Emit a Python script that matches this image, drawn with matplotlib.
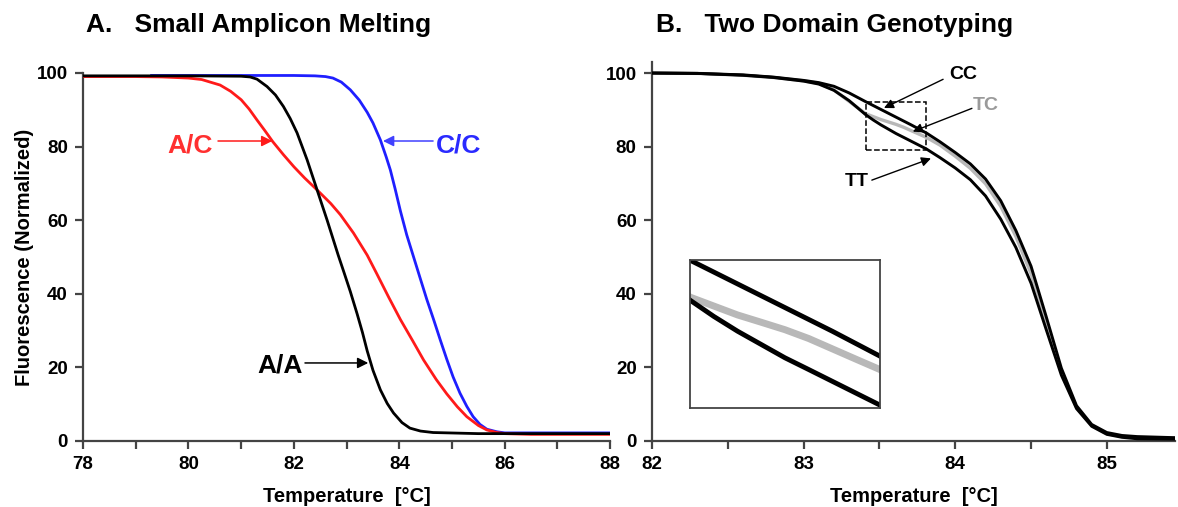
import numpy as np
import matplotlib.pyplot as plt
from matplotlib.patches import Rectangle

plt.rcParams['font.family'] = ['Liberation Sans', 'DejaVu Sans']
plt.rcParams['font.weight'] = 'bold'

# ---- panel A: small amplicon melting ----
ac_t = [78.0, 79.0, 79.5, 80.0, 80.25, 80.6, 80.8, 81.0, 81.15, 81.3, 81.45, 81.6, 81.8,
        82.0, 82.2, 82.44, 82.7, 82.88, 83.13, 83.39, 83.57, 83.8, 84.02, 84.25, 84.46,
        84.7, 84.9, 85.1, 85.28, 85.5, 85.66, 85.85, 86.0, 86.5, 88.0]
ac_f = [99.0, 99.0, 98.9, 98.6, 98.2, 96.7, 95.0, 92.7, 90.2, 87.2, 84.3, 81.3, 77.8,
        74.5, 71.5, 68.2, 64.5, 61.5, 56.5, 50.5, 45.5, 39.0, 33.0, 27.3, 22.0,
        16.7, 12.8, 9.3, 6.6, 4.2, 3.0, 2.3, 2.0, 1.8, 1.8]

aa_t = [78.0, 80.0, 81.0, 81.17, 81.3, 81.49, 81.65, 81.8, 81.93, 82.06, 82.25, 82.44,
        82.63, 82.84, 82.95, 83.07, 83.2, 83.3, 83.39, 83.5, 83.64, 83.77, 83.89, 84.05,
        84.2, 84.4, 84.64, 85.5, 88.0]
aa_f = [99.2, 99.2, 99.1, 98.9, 98.3, 96.3, 94.0, 90.9, 87.6, 83.7, 76.4, 68.2,
        60.0, 50.5, 45.8, 40.6, 34.5, 29.5, 24.5, 19.2, 13.9, 10.2, 7.6, 5.0,
        3.5, 2.7, 2.3, 2.0, 2.0]

cc_t = [79.3, 82.0, 82.4, 82.6, 82.74, 82.9, 83.07, 83.24, 83.39, 83.5, 83.64, 83.75,
        83.83, 83.92, 84.02, 84.14, 84.27, 84.4, 84.52, 84.65, 84.78, 84.9, 85.02, 85.15,
        85.28, 85.4, 85.53, 85.66, 85.85, 86.0, 88.0]
cc_f = [99.3, 99.3, 99.2, 99.0, 98.6, 97.5, 95.4, 92.6, 89.3, 86.4, 81.8, 77.2,
        73.6, 68.5, 62.5, 56.0, 50.0, 44.0, 38.5, 33.0, 27.3, 22.2, 17.4, 13.0,
        9.4, 6.6, 4.5, 3.2, 2.5, 2.2, 2.2]

# ---- panel B: two domain genotyping ----
b_t = [82.0, 82.3, 82.6, 82.8, 83.0, 83.1, 83.2, 83.3,
       83.41, 83.46, 83.51, 83.56, 83.61, 83.66, 83.71, 83.76, 83.81,
       83.9, 84.0, 84.1, 84.2, 84.3, 84.4, 84.5, 84.6, 84.7, 84.8, 84.9, 85.0, 85.1,
       85.2, 85.45]
b_cc = [100.0, 99.9, 99.5, 98.9, 98.0, 97.4, 96.4, 94.6,
        92.2, 91.15, 90.1, 89.05, 88.0, 86.95, 85.9, 84.8, 83.7,
        81.3, 78.4, 75.3, 71.2, 65.3, 57.2, 47.5, 33.8, 19.8, 9.6, 4.5, 2.3, 1.5,
        1.2, 0.9]
b_tt = [100.0, 99.9, 99.4, 98.8, 97.8, 97.0, 95.3, 92.5,
        88.66, 87.22, 85.91, 84.73, 83.55, 82.51, 81.46, 80.41, 79.36,
        77.0, 74.2, 71.0, 66.6, 60.3, 52.6, 42.9, 30.3, 17.9, 8.8, 4.0, 1.8, 1.0,
        0.6, 0.5]
b_tc = [100.0, 99.9, 99.4, 98.8, 97.9, 97.2, 95.4, 92.3,
        88.93, 88.14, 87.35, 86.70, 86.04, 85.26, 84.34, 83.42, 82.51,
        80.4, 77.4, 74.1, 69.9, 63.8, 55.6, 45.5, 32.0, 18.8, 9.1, 4.2, 2.0, 1.2,
        0.9, 0.8]

red = '#ff1a1a'
blue = '#1f1fff'
gray = '#b8b8b8'

fig = plt.figure(figsize=(11.78, 5.07), dpi=100)

axA = fig.add_axes([0.0705, 0.1302, 0.4475, 0.726])
axA.plot(ac_t, ac_f, color=red, lw=2.0, zorder=3)
axA.plot(cc_t, cc_f, color=blue, lw=2.0, zorder=2)
axA.plot(aa_t, aa_f, color='black', lw=2.0, zorder=4)
axA.set_xlim(78, 88)
axA.set_ylim(0, 100)
axA.set_xticks([78, 80, 82, 84, 86, 88])
axA.set_xticks([79, 81, 83, 85, 87], minor=True)
axA.set_yticks([0, 20, 40, 60, 80, 100])
axA.set_xlabel('Temperature  [°C]', fontsize=14.5, fontweight='bold', labelpad=10)
axA.set_ylabel('Fluorescence (Normalized)', fontsize=14.5, fontweight='bold', labelpad=2)

arr = dict(arrowstyle='-|>', lw=1.1, mutation_scale=16, shrinkA=0, shrinkB=0)
axA.annotate('', xy=(81.59, 81.5), xytext=(80.56, 81.5), arrowprops=dict(arr, color=red))
axA.text(80.03, 80.4, 'A/C', color='#ff3030', fontsize=19, fontweight='bold', ha='center', va='center')
axA.annotate('', xy=(83.69, 81.5), xytext=(84.64, 81.5), arrowprops=dict(arr, color='#4040ff'))
axA.text(85.12, 80.4, 'C/C', color='#2a2aff', fontsize=19, fontweight='bold', ha='center', va='center')
axA.annotate('', xy=(83.41, 21.2), xytext=(82.21, 21.2), arrowprops=dict(arr, color='black'))
axA.text(81.73, 20.6, 'A/A', color='black', fontsize=19, fontweight='bold', ha='center', va='center')

axB = fig.add_axes([0.5535, 0.1302, 0.444, 0.7475])
axB.plot(b_t, b_tc, color=gray, lw=2.4, zorder=2)
axB.plot(b_t, b_cc, color='black', lw=2.1, zorder=3)
axB.plot(b_t, b_tt, color='black', lw=2.1, zorder=3)
axB.set_xlim(82, 85.45)
axB.set_ylim(0, 103)
axB.set_xticks([82, 83, 84, 85])
axB.set_xticks([82.5, 83.5, 84.5], minor=True)
axB.set_yticks([0, 20, 40, 60, 80, 100])
axB.set_xlabel('Temperature  [°C]', fontsize=14.5, fontweight='bold', labelpad=10)

box_x0, box_x1, box_y0, box_y1 = 83.41, 83.81, 79.1, 92.2
axB.add_patch(Rectangle((box_x0, box_y0), box_x1 - box_x0, box_y1 - box_y0, fill=False,
                        ls='--', lw=1.1, edgecolor='black', zorder=5))
arrB = dict(arrowstyle='-|>', lw=1.0, mutation_scale=14, shrinkA=0, shrinkB=0)
axB.annotate('', xy=(83.53, 90.5), xytext=(83.92, 98.3), arrowprops=dict(arrB, color='black'))
axB.text(84.05, 99.5, 'CC', color='black', fontsize=14, fontweight='bold', ha='center', va='center')
axB.annotate('', xy=(83.72, 84.1), xytext=(84.11, 90.4), arrowprops=dict(arrB, color='black'))
axB.text(84.2, 91.3, 'TC', color='#9a9a9a', fontsize=14, fontweight='bold', ha='center', va='center')
axB.annotate('', xy=(83.84, 76.8), xytext=(83.45, 70.9), arrowprops=dict(arrB, color='black'))
axB.text(83.35, 70.5, 'TT', color='black', fontsize=14, fontweight='bold', ha='center', va='center')

ins = axB.inset_axes([0.0727, 0.087, 0.363, 0.39])
ins.plot(b_t, b_tc, color=gray, lw=5)
ins.plot(b_t, b_cc, color='black', lw=3.5)
ins.plot(b_t, b_tt, color='black', lw=3.5)
ins.set_xlim(box_x0, box_x1)
ins.set_ylim(box_y0, box_y1)
ins.set_xticks([])
ins.set_yticks([])
for s in ins.spines.values():
    s.set_color('#444444')
    s.set_linewidth(1.3)

for ax in (axA, axB):
    for s in ('top', 'right'):
        ax.spines[s].set_visible(False)
    for s in ('left', 'bottom'):
        ax.spines[s].set_color('#444444')
        ax.spines[s].set_linewidth(1.6)
    ax.tick_params(which='both', direction='out', width=1.6, color='#444444')
    ax.tick_params(which='major', length=6, labelsize=13.5, pad=5)
    ax.tick_params(which='minor', length=6)
    for lab in ax.get_xticklabels() + ax.get_yticklabels():
        lab.set_fontweight('bold')

fig.text(0.073, 0.951, 'A.   Small Amplicon Melting', fontsize=19, fontweight='bold', va='center')
fig.text(0.557, 0.951, 'B.   Two Domain Genotyping', fontsize=19, fontweight='bold', va='center')

fig.savefig('out.png', dpi=100)
